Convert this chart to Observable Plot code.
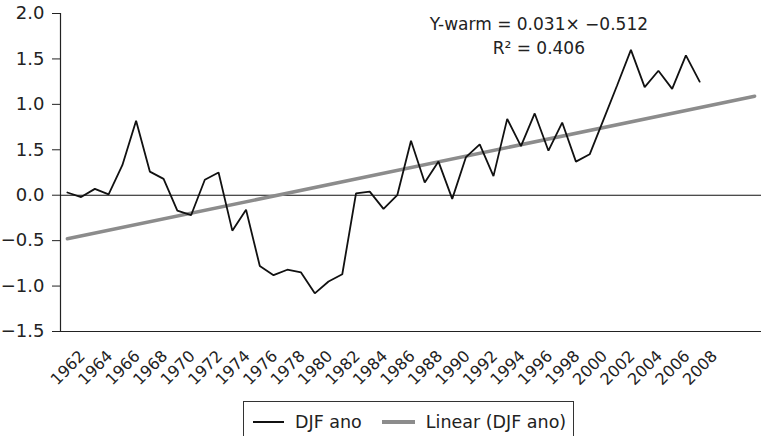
<!DOCTYPE html>
<html>
<head>
<meta charset="utf-8">
<script src="https://cdn.jsdelivr.net/npm/d3@7"></script>
<script src="https://cdn.jsdelivr.net/npm/@observablehq/plot@0.6"></script>
<style>
  body { margin: 0; background: #fff; font-family: "DejaVu Sans", sans-serif; color: #222; }
  #wrap { position: relative; width: 761px; height: 436px; overflow: hidden; background: #fff; }
  #legend {
    position: absolute; left: 243px; top: 401px; width: 331px; height: 37px;
    box-sizing: border-box; border: 1px solid #333; padding: 5px 0 0 9px;
    display: flex; align-items: center; font-size: 17.5px; color: #222; white-space: nowrap;
  }
  .item { display: flex; align-items: center; margin-right: 20px; white-space: nowrap; flex: none; }
  .swatch { display: inline-block; width: 31px; margin-right: 11px; flex: none; }
</style>
</head>
<body>
<div id="wrap">
  <div id="chart"></div>
  <div id="legend"></div>
</div>
<script>
// ---- data ----
const years = [1962,1963,1964,1965,1966,1967,1968,1969,1970,1971,1972,1973,1974,1975,1976,1977,1978,1979,1980,1981,1982,1983,1984,1985,1986,1987,1988,1989,1990,1991,1992,1993,1994,1995,1996,1997,1998,1999,2000,2001,2002,2003,2004,2005,2006,2007,2008];
const djfAno = [0.03,-0.02,0.07,0.01,0.33,0.82,0.26,0.18,-0.17,-0.22,0.17,0.25,-0.39,-0.16,-0.78,-0.88,-0.82,-0.85,-1.08,-0.95,-0.87,0.02,0.04,-0.15,0.00,0.60,0.14,0.37,-0.04,0.42,0.56,0.21,0.84,0.54,0.90,0.49,0.80,0.37,0.45,0.83,1.21,1.60,1.19,1.37,1.17,1.54,1.25];
const trendYears = [1962, 2012];
const trendValues = [-0.48, 1.09];
const xDomain = [1961.5, 2012.5];
const yDomain = [-1.5, 2.0];
const yTicks = [-1.5, -1.0, -0.5, 0.0, 0.5, 1.0, 1.5, 2.0];
const yTickLabels = ["−1.5", "−1.0", "−0.5", "0.0", "1.5", "1.0", "1.5", "2.0"];
const xTickLabels = ["1962","1964","1966","1968","1970","1972","1974","1976","1978","1980","1982","1984","1986","1988","1990","1992","1994","1996","1998","2000","2002","2004","2006","2008"];
const seriesNames = ["DJF ano", "Linear (DJF ano)"];
const seriesColors = ["#111111", "#8c8c8c"];
const seriesWidths = [1.8, 3.5];
const annotationLines = ["Y-warm = 0.031× −0.512", "R² = 0.406"];
const annotationX = [1996.3, 1996.3];
const annotationY = [1.88, 1.61];

// ---- tables ----
const series = years.map((year, i) => ({year, value: djfAno[i]}));
const trend = trendYears.map((year, i) => ({year, value: trendValues[i]}));
const notes = annotationLines.map((text, i) => ({text, x: annotationX[i], y: annotationY[i]}));

const chart = Plot.plot({
  width: 761,
  height: 395,
  marginLeft: 60,
  marginRight: 0,
  marginTop: 13,
  marginBottom: 64,
  style: {fontFamily: '"DejaVu Sans", sans-serif', color: "#222", background: "#fff"},
  x: {domain: xDomain, axis: null},
  y: {domain: yDomain, axis: null},
  marks: [
    Plot.axisY(yTicks, {
      tickSize: 8, tickPadding: 8, fontSize: 18,
      tickFormat: d => yTickLabels[yTicks.indexOf(d)]
    }),
    Plot.ruleX([xDomain[0]], {y1: yDomain[0], y2: yDomain[1], stroke: "#222", strokeWidth: 1.2}),
    Plot.ruleY([yDomain[0]], {stroke: "#222", strokeWidth: 1.2}),
    Plot.ruleY([0], {stroke: "#111", strokeWidth: 1.1}),
    Plot.text(xTickLabels, {
      x: d => +d, frameAnchor: "bottom", rotate: -45,
      textAnchor: "end", lineAnchor: "middle", dx: 15, dy: 22,
      fontSize: 16, fill: "#222"
    }),
    Plot.line(trend, {x: "year", y: "value", stroke: seriesColors[1], strokeWidth: seriesWidths[1]}),
    Plot.line(series, {x: "year", y: "value", stroke: seriesColors[0], strokeWidth: seriesWidths[0], strokeLinejoin: "miter"}),
    Plot.text(notes, {x: "x", y: "y", text: "text", fontSize: 17, textAnchor: "middle", lineAnchor: "middle", fill: "#222"})
  ]
});
document.getElementById("chart").appendChild(chart);

// ---- legend ----
const legend = document.getElementById("legend");
seriesNames.forEach((name, i) => {
  const item = document.createElement("span");
  item.className = "item";
  const sw = document.createElement("span");
  sw.className = "swatch";
  sw.style.height = (i === 0 ? 2 : 3.5) + "px";
  sw.style.background = seriesColors[i];
  if (i === 1) sw.style.width = "33px";
  const label = document.createElement("span");
  label.textContent = name;
  item.appendChild(sw);
  item.appendChild(label);
  legend.appendChild(item);
});
</script>
</body>
</html>
